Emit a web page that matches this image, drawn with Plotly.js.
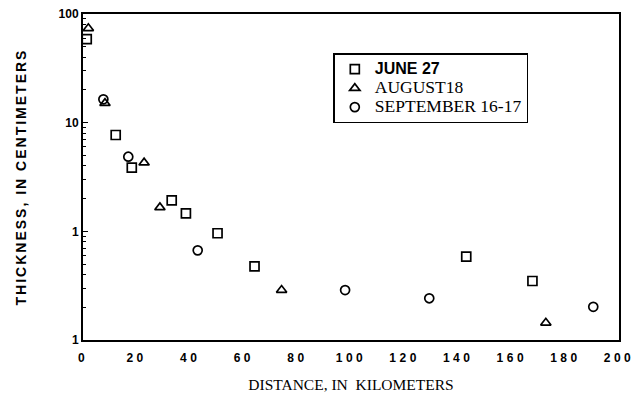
<!DOCTYPE html>
<html>
<head>
<meta charset="utf-8">
<script src="https://cdn.plot.ly/plotly-3.0.1.min.js"></script>
<style>
html,body{margin:0;padding:0;background:#fff;}
#chart{width:636px;height:393px;}
.xtick text{letter-spacing:3.5px;}
.ytitle{letter-spacing:2px;}
</style>
</head>
<body>
<div id="chart"></div>
<script>
// June 27 (squares)
const juneX = [1.4, 12.2, 18.2, 33.1, 38.4, 50.2, 64.0, 143.0, 167.7];
const juneY = [58.8, 7.7, 3.85, 1.93, 1.46, 0.96, 0.476, 0.584, 0.349];
// August 18 (triangles)
const augX = [2.0, 8.2, 22.8, 28.7, 74.1, 172.7];
const augY = [73.8, 15.1, 4.28, 1.66, 0.288, 0.144];
// September 16-17 (circles)
const sepX = [7.6, 16.9, 42.8, 97.8, 129.2, 190.4];
const sepY = [16.4, 4.86, 0.668, 0.288, 0.242, 0.202];

const xTickVals = [0, 20, 40, 60, 80, 100, 120, 140, 160, 180, 200];
const xTickText = ["0", "20", "40", "60", "80", "100", "120", "140", "160", "180", "200"];
const yTickVals = [0.1, 1, 10, 100];
const yTickText = ["1", "1", "10", "100"];
const yMinorVals = [0.2, 0.3, 0.4, 0.5, 0.6, 0.7, 0.8, 0.9, 2, 3, 4, 5, 6, 7, 8, 9, 20, 30, 40, 50, 60, 70, 80, 90];

const seriesLabels = ['JUNE 27', 'AUGUST18', 'SEPTEMBER 16-17'];
const seriesNames = [
  '<span style="font-family:Liberation Sans, Arial, sans-serif;font-weight:bold;font-size:16px">' + seriesLabels[0] + '</span>',
  '<span style="font-size:17.5px">' + seriesLabels[1] + '</span>',
  '<span style="font-size:17.5px">' + seriesLabels[2] + '</span>'
];

const mk = (symbol, size) => ({symbol: symbol, size: size, color: '#000', line: {color: '#000', width: 1.7}});

const traces = [
  {x: juneX, y: juneY, name: seriesNames[0], mode: 'markers', type: 'scatter', marker: mk('square-open', 9), cliponaxis: false},
  {x: augX, y: augY, name: seriesNames[1], mode: 'markers', type: 'scatter', marker: mk('triangle-up-open', 9), cliponaxis: false},
  {x: sepX, y: sepY, name: seriesNames[2], mode: 'markers', type: 'scatter', marker: mk('circle-open', 9), cliponaxis: false}
];

const layout = {
  width: 636, height: 393,
  margin: {l: 83, r: 17, t: 14, b: 53},
  paper_bgcolor: '#fff', plot_bgcolor: '#fff',
  showlegend: true,
  legend: {
    x: 0.467, y: 0.88, xanchor: 'left', yanchor: 'top',
    bordercolor: '#000', borderwidth: 1.5, bgcolor: '#fff',
    font: {family: 'Liberation Serif, Times New Roman, serif', size: 12.3, color: '#000'},
    tracegroupgap: 0, itemsizing: 'trace'
  },
  xaxis: {
    range: [0, 200], tickmode: 'array', tickvals: xTickVals, ticktext: xTickText,
    showgrid: false, zeroline: false, showline: true, linecolor: '#000', linewidth: 2, mirror: true,
    ticks: 'outside', ticklen: 6, tickcolor: 'rgba(0,0,0,0)',
    tickfont: {family: 'Liberation Sans, Arial, sans-serif', size: 12, color: '#000', weight: 'bold'},
    title: {text: 'DISTANCE, IN  KILOMETERS', font: {family: 'Liberation Serif, Times New Roman, serif', size: 15.5, color: '#000'}, standoff: 15}
  },
  yaxis: {
    type: 'log', range: [-1, 2], tickmode: 'array', tickvals: yTickVals, ticktext: yTickText,
    showgrid: false, zeroline: false, showline: true, linecolor: '#000', linewidth: 2, mirror: true,
    ticks: 'inside', ticklen: 5, tickcolor: '#000',
    minor: {tickmode: 'array', tickvals: yMinorVals, ticks: 'inside', ticklen: 3, tickcolor: '#000', showgrid: false},
    tickfont: {family: 'Liberation Sans, Arial, sans-serif', size: 12, color: '#000', weight: 'bold'},
    title: {text: 'THICKNESS, IN CENTIMETERS', font: {family: 'Liberation Sans, Arial, sans-serif', size: 14, color: '#000', weight: 'bold'}, standoff: 29}
  }
};

Plotly.newPlot('chart', traces, layout, {displayModeBar: false, staticPlot: true});
</script>
</body>
</html>
